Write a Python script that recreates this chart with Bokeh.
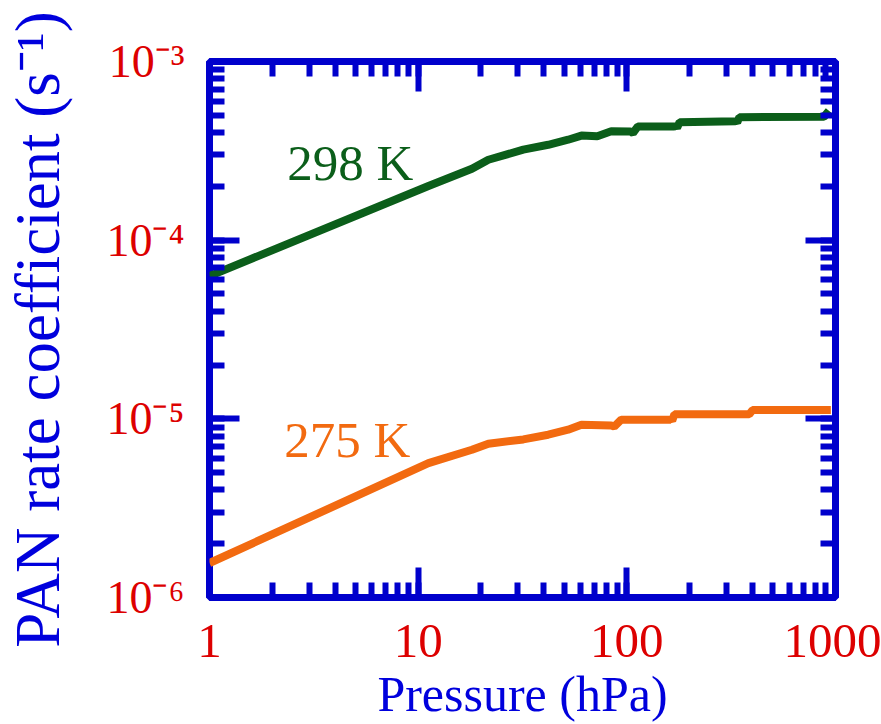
from bokeh.plotting import figure
from bokeh.models import LogAxis, LogTicker, CustomJSTickFormatter
from bokeh.embed import file_html
from bokeh.resources import INLINE
from bokeh.core.properties import value

# ---- data ----
pressure_298 = [1.0, 11.2, 18.1, 21.7, 31.9, 42.0, 52.3, 60.6, 72.2, 84.2, 104, 107,
                113, 172, 174, 179, 333, 338, 346, 880, 930]
k_298 = [6.3e-5, 2.01e-4, 2.51e-4, 2.82e-4, 3.21e-4, 3.42e-4, 3.65e-4, 3.85e-4,
         3.82e-4, 4.07e-4, 4.06e-4, 3.98e-4, 4.33e-4, 4.33e-4, 4.25e-4, 4.57e-4,
         4.63e-4, 4.55e-4, 4.88e-4, 4.90e-4, 5.3e-4]

pressure_275 = [1.0, 11.2, 18.1, 21.7, 31.9, 42.0, 52.3, 60.6, 84.2, 87.0, 94.0,
                163, 165, 169, 386, 400, 950]
k_275 = [1.56e-6, 5.65e-6, 6.71e-6, 7.26e-6, 7.67e-6, 8.15e-6, 8.69e-6, 9.27e-6,
         9.18e-6, 9.05e-6, 9.89e-6, 9.89e-6, 9.75e-6, 1.06e-5, 1.06e-5, 1.12e-5, 1.12e-5]

series_labels = ["298 K", "275 K"]
x_range = (1, 1000)
y_range = (1e-6, 1e-3)

# ---- styles ----
BLUE = "#0000CC"
TITLE_BLUE = "#0000DD"
RED = "#DD0000"
GREEN = "#0B5E1A"
ORANGE = "#F26A10"
FONT = "Liberation Serif"

p = figure(width=881, height=724, x_axis_type="log", y_axis_type="log",
           x_range=x_range, y_range=y_range, output_backend="svg",
           toolbar_location=None,
           min_border_left=207, min_border_right=46, min_border_top=61,
           min_border_bottom=127)
p.background_fill_color = "white"
p.border_fill_color = "white"
p.grid.visible = False
p.outline_line_color = BLUE
p.outline_line_width = 7
p.outline_line_alpha = 1.0

x_fmt = CustomJSTickFormatter(code="return String(Math.round(tick));")
y_fmt = CustomJSTickFormatter(code="""
const e = Math.round(Math.log10(tick));
const sup = {'-':'\u207B','0':'\u2070','1':'\u00B9','2':'\u00B2','3':'\u00B3','4':'\u2074','5':'\u2075','6':'\u2076','7':'\u2077','8':'\u2078','9':'\u2079'};
return '10' + String(e).split('').map(c => sup[c]).join('');
""")
blank_fmt = CustomJSTickFormatter(code="return '';")


def style_axis(ax):
    ax.ticker = LogTicker(num_minor_ticks=10)
    ax.axis_line_color = None
    ax.major_tick_in = 30
    ax.major_tick_out = 0
    ax.minor_tick_in = 15
    ax.minor_tick_out = 0
    ax.major_tick_line_color = BLUE
    ax.minor_tick_line_color = BLUE
    ax.major_tick_line_width = 6
    ax.minor_tick_line_width = 6
    ax.major_label_text_color = RED
    ax.major_label_text_font = FONT
    ax.major_label_text_font_size = "48px"
    ax.axis_label_text_color = TITLE_BLUE
    ax.axis_label_text_font = FONT
    ax.axis_label_text_font_style = "normal"


xax = p.xaxis[0]
style_axis(xax)
xax.formatter = x_fmt
xax.major_label_text_font_size = "49px"
xax.major_label_standoff = 27
xax.axis_label = "Pressure (hPa)"
xax.axis_label_text_font_size = "50px"
xax.axis_label_standoff = 6

yax = p.yaxis[0]
style_axis(yax)
yax.formatter = y_fmt
yax.major_label_text_font_size = "46px"
yax.major_label_standoff = 25
yax.axis_label = "PAN rate coefficient (s\u207B\u00B9)"
yax.axis_label_text_font_size = "63px"
yax.axis_label_standoff = 30

top = LogAxis()
style_axis(top)
top.formatter = blank_fmt
top.major_label_standoff = 0
top.major_label_text_font_size = "1px"
p.add_layout(top, "above")

right = LogAxis()
style_axis(right)
right.formatter = blank_fmt
right.major_label_standoff = 0
right.major_label_text_font_size = "1px"
p.add_layout(right, "right")

p.line(pressure_298, k_298, line_color=GREEN, line_width=8)
p.line(pressure_275, k_275, line_color=ORANGE, line_width=8)

p.text(x=[2.36], y=[2.69e-4], text=[series_labels[0]], text_color=GREEN,
       text_font=value(FONT), text_font_size="51px", text_baseline="alphabetic",
       text_align="left")
p.text(x=[2.28], y=[7.6e-6], text=[series_labels[1]], text_color=ORANGE,
       text_font=value(FONT), text_font_size="51px", text_baseline="alphabetic",
       text_align="left")

open("out.html", "w").write(file_html(p, INLINE))
